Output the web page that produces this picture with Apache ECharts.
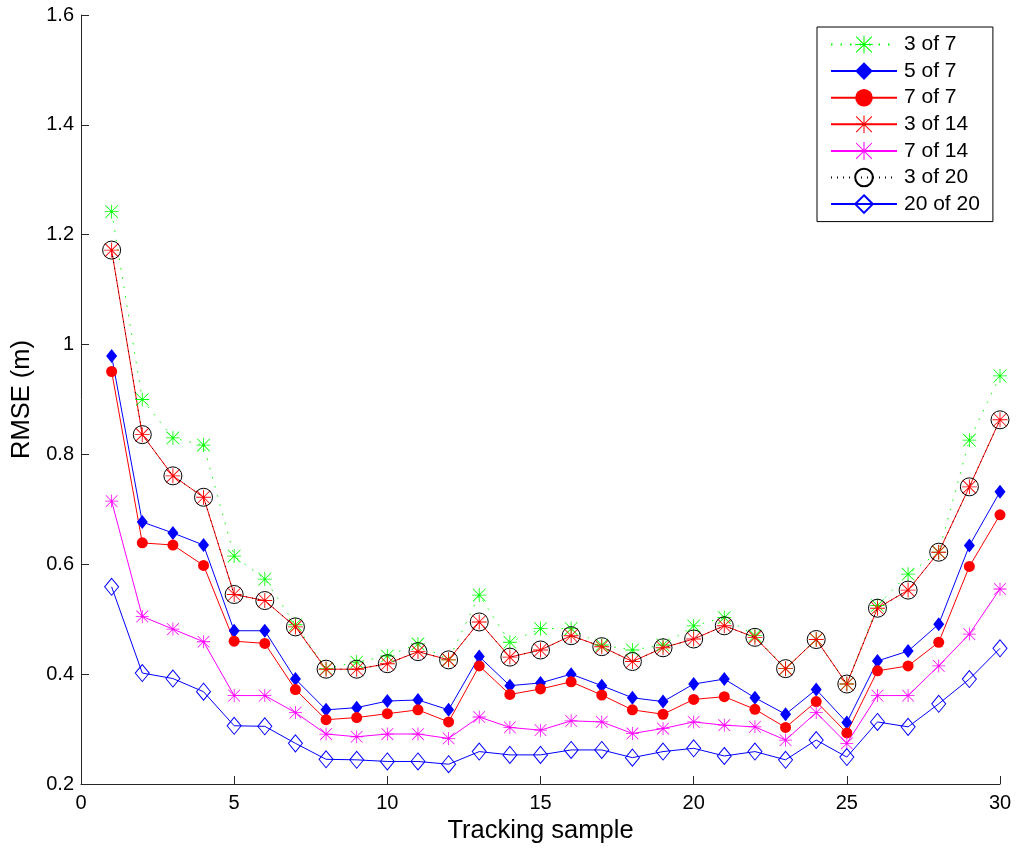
<!DOCTYPE html>
<html>
<head>
<meta charset="utf-8">
<script src="https://cdn.jsdelivr.net/npm/echarts@6/dist/echarts.min.js"></script>
<style>
  html, body { margin: 0; padding: 0; background: #fff; }
  #main { width: 1017px; height: 851px; }
</style>
</head>
<body>
<div id="main"></div>
<script>
// tracking sample index
var samples = [1,2,3,4,5,6,7,8,9,10,11,12,13,14,15,16,17,18,19,20,21,22,23,24,25,26,27,28,29,30];

var rmse3of7 = [1.242,0.900,0.830,0.817,0.615,0.573,0.490,0.410,0.422,0.433,0.455,0.426,0.544,0.458,0.483,
  0.483,0.453,0.444,0.453,0.488,0.503,0.470,0.410,0.463,0.382,0.525,0.582,0.622,0.826,0.943];
var rmse5of7 = [0.979,0.677,0.657,0.635,0.479,0.479,0.391,0.335,0.339,0.351,0.353,0.335,0.432,0.379,0.384,
  0.400,0.379,0.357,0.350,0.382,0.391,0.357,0.327,0.372,0.312,0.424,0.442,0.491,0.634,0.732];
var rmse7of7 = [0.951,0.639,0.635,0.598,0.460,0.456,0.372,0.317,0.321,0.328,0.335,0.313,0.415,0.363,0.373,
  0.386,0.362,0.335,0.327,0.354,0.359,0.336,0.303,0.350,0.293,0.406,0.415,0.458,0.596,0.690];
var rmse3of14 = [1.172,0.836,0.761,0.722,0.545,0.534,0.486,0.409,0.409,0.419,0.441,0.426,0.495,0.431,0.444,
  0.470,0.450,0.423,0.448,0.464,0.488,0.467,0.410,0.463,0.382,0.520,0.553,0.622,0.741,0.863];
var rmse7of14 = [0.715,0.505,0.482,0.459,0.361,0.361,0.330,0.291,0.286,0.291,0.291,0.283,0.322,0.303,0.298,
  0.315,0.313,0.292,0.301,0.313,0.307,0.304,0.280,0.330,0.274,0.361,0.361,0.415,0.473,0.555];
var rmse3of20 = [1.172,0.836,0.761,0.722,0.545,0.534,0.486,0.409,0.409,0.419,0.441,0.426,0.495,0.431,0.444,
  0.470,0.450,0.423,0.448,0.464,0.488,0.467,0.410,0.463,0.382,0.520,0.553,0.622,0.741,0.863];
var rmse20of20 = [0.559,0.402,0.392,0.368,0.306,0.305,0.274,0.245,0.244,0.241,0.241,0.236,0.259,0.253,0.253,
  0.262,0.262,0.248,0.259,0.265,0.251,0.259,0.244,0.280,0.249,0.313,0.304,0.346,0.391,0.447];

var xTicks = { min: 0, max: 30, step: 5 };
var yTicks = { min: 0.2, max: 1.6, step: 0.2 };

// matlab style '*' marker (plus + cross)
var asterisk = 'path://M9.4 0h1.2v20h-1.2z M0 9.4h20v1.2h-20z ' +
  'M0.6 1.4L1.4 0.6L19.4 18.6L18.6 19.4z M18.6 0.6L19.4 1.4L1.4 19.4L0.6 18.6z';

var font = 'Liberation Sans, Arial, Helvetica, sans-serif';

function pairs(ys) {
  return samples.map(function (x, i) { return [x, ys[i]]; });
}

function makeSeries(name, ys, opt) {
  return {
    name: name,
    type: 'line',
    data: pairs(ys),
    symbol: opt.symbol,
    symbolSize: opt.size,
    showAllSymbol: true,
    lineStyle: { color: opt.lineColor, width: 1, type: opt.lineType || 'solid' },
    itemStyle: opt.itemStyle,
    emphasis: { disabled: true }
  };
}

var series = [
  makeSeries('3 of 7', rmse3of7, {
    symbol: asterisk, size: 14, lineColor: '#00ff00', lineType: [1.5, 8],
    itemStyle: { color: '#00ff00' }
  }),
  makeSeries('5 of 7', rmse5of7, {
    symbol: 'diamond', size: [11, 14], lineColor: '#0000ff',
    itemStyle: { color: '#0000ff' }
  }),
  makeSeries('7 of 7', rmse7of7, {
    symbol: 'circle', size: 11, lineColor: '#ff0000',
    itemStyle: { color: '#ff0000' }
  }),
  makeSeries('3 of 14', rmse3of14, {
    symbol: asterisk, size: 15, lineColor: '#ff0000',
    itemStyle: { color: '#ff0000' }
  }),
  makeSeries('7 of 14', rmse7of14, {
    symbol: asterisk, size: 13, lineColor: '#ff00ff',
    itemStyle: { color: '#ff00ff' }
  }),
  makeSeries('3 of 20', rmse3of20, {
    symbol: 'circle', size: 18, lineColor: '#000000', lineType: [1, 5],
    itemStyle: { color: 'rgba(0,0,0,0)', borderColor: '#000000', borderWidth: 1 }
  }),
  makeSeries('20 of 20', rmse20of20, {
    symbol: 'diamond', size: [14, 17], lineColor: '#0000ff',
    itemStyle: { color: 'rgba(0,0,0,0)', borderColor: '#0000ff', borderWidth: 1 }
  })
];

var chart = echarts.init(document.getElementById('main'), null, { renderer: 'canvas' });

var option = {
  animation: false,
  backgroundColor: '#ffffff',
  textStyle: { fontFamily: font },
  grid: { left: 81, top: 15, width: 919, height: 769, containLabel: false },
  legend: {
    orient: 'vertical',
    left: 817,
    top: 27,
    itemWidth: 66,
    itemHeight: 22,
    itemGap: 5.6,
    padding: [7, 13, 7, 13],
    backgroundColor: '#ffffff',
    borderColor: '#000000',
    borderWidth: 1,
    borderRadius: 0,
    selectedMode: false,
    textStyle: { fontFamily: font, fontSize: 21, color: '#000', padding: [0, 0, 0, 2] },
    data: series.map(function (s) { return s.name; })
  },
  xAxis: {
    type: 'value',
    min: xTicks.min,
    max: xTicks.max,
    interval: xTicks.step,
    name: 'Tracking sample',
    nameLocation: 'middle',
    nameGap: 27,
    nameTextStyle: { fontFamily: font, fontSize: 25.5, color: '#000' },
    axisLine: { onZero: false, lineStyle: { color: '#262626', width: 1 } },
    axisTick: { inside: true, length: 8, lineStyle: { color: '#262626' } },
    axisLabel: { fontFamily: font, fontSize: 20, color: '#000', margin: 9 },
    splitLine: { show: false }
  },
  yAxis: {
    type: 'value',
    min: yTicks.min,
    max: yTicks.max,
    interval: yTicks.step,
    name: 'RMSE (m)',
    nameLocation: 'middle',
    nameGap: 46,
    nameTextStyle: { fontFamily: font, fontSize: 25.5, color: '#000' },
    axisLine: { show: true, onZero: false, lineStyle: { color: '#262626', width: 1 } },
    axisTick: { show: true, inside: true, length: 8, lineStyle: { color: '#262626' } },
    axisLabel: { fontFamily: font, fontSize: 20, color: '#000', margin: 7 },
    splitLine: { show: false }
  },
  series: series
};

chart.setOption(option);
</script>
</body>
</html>
